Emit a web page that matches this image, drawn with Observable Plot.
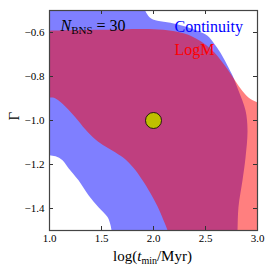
<!DOCTYPE html>
<html>
<head>
<meta charset="utf-8">
<script src="https://cdn.jsdelivr.net/npm/d3@7"></script>
<script src="https://cdn.jsdelivr.net/npm/@observablehq/plot@0.6"></script>
<style>
  html, body { margin: 0; padding: 0; background: #fff; }
  #chart { width: 274px; height: 274px; }
</style>
</head>
<body>
<div id="chart"></div>
<script>
// Tick values
const xTicks = [1.0, 1.5, 2.0, 2.5, 3.0];
const yTicks = [-1.4, -1.2, -1.0, -0.8, -0.6];

// Continuity credible region outline
const contX = [0.95, 1.88, 1.93, 1.971, 2.038, 2.163, 2.288, 2.423, 2.519, 2.577, 2.644, 2.712, 2.760, 2.817, 2.885, 2.904, 2.885, 2.856, 2.817, 2.808, 2.805,
               1.60, 1.596, 1.587, 1.558, 1.471, 1.375, 1.279, 1.183, 1.125, 1.058, 1.0, 0.95];
const contY = [-0.45, -0.46, -0.51, -0.534, -0.547, -0.556, -0.570, -0.592, -0.615, -0.647, -0.692, -0.751, -0.796, -0.864, -0.955, -1.045, -1.168, -1.272, -1.394, -1.5, -1.55,
               -1.55, -1.5, -1.476, -1.439, -1.394, -1.340, -1.272, -1.217, -1.181, -1.163, -1.158, -1.155];

// LogM credible region outline
const logmX = [0.95, 1.0, 1.49, 2.096, 2.356, 2.548, 2.673, 2.760, 2.837, 2.913, 3.0, 3.05, 3.05,
               2.15, 2.135, 2.096, 2.038, 1.971, 1.894, 1.827, 1.731, 1.635, 1.538, 1.442, 1.346, 1.25, 1.154, 1.058, 1.0, 0.95];
const logmY = [-0.592, -0.592, -0.588, -0.588, -0.615, -0.674, -0.742, -0.801, -0.855, -0.896, -0.918, -0.92, -1.55,
               -1.55, -1.5, -1.453, -1.390, -1.331, -1.272, -1.226, -1.177, -1.145, -1.118, -1.086, -1.041, -0.986, -0.937, -0.900, -0.896, -0.896];

// True value
const truthX = [2.0];
const truthY = [-1.0];

const cont = contX.map((x, i) => ({x, y: contY[i]}));
const logm = logmX.map((x, i) => ({x, y: logmY[i]}));
const truth = truthX.map((x, i) => ({x, y: truthY[i]}));

const fmt = d => d.toFixed(1).replace("-", "\u2212");
const serif = "Liberation Serif, DejaVu Serif, serif";

const plot = Plot.plot({
  width: 274,
  height: 274,
  marginLeft: 49,
  marginRight: 17,
  marginTop: 10,
  marginBottom: 44,
  style: {fontFamily: serif, fontSize: "11px", background: "#fff", color: "#000"},
  x: {domain: [1.0, 3.0], label: null},
  y: {domain: [-1.5, -0.5], label: null},
  marks: [
    Plot.line(cont, {x: "x", y: "y", fill: "#0000ff", fillOpacity: 0.5, stroke: "none", curve: "catmull-rom-closed", clip: true}),
    Plot.line(logm, {x: "x", y: "y", fill: "#ff0000", fillOpacity: 0.5, stroke: "none", curve: "catmull-rom-closed", clip: true}),
    Plot.dot(truth, {x: "x", y: "y", r: 8, fill: "#bfbf00", stroke: "#000", strokeWidth: 0.8}),
    Plot.tickX(xTicks, {x: d => d, insetTop: 216, stroke: "#333"}),
    Plot.tickX(xTicks, {x: d => d, insetBottom: 216, stroke: "#333"}),
    Plot.tickY(yTicks, {y: d => d, insetRight: 204, stroke: "#333"}),
    Plot.tickY(yTicks, {y: d => d, insetLeft: 204, stroke: "#333"}),
    Plot.axisX({ticks: xTicks, tickSize: 0, tickPadding: 4, tickFormat: fmt, label: null, fontSize: 11}),
    Plot.axisY({ticks: yTicks, tickSize: 0, tickPadding: 5, tickFormat: fmt, label: null, fontSize: 11}),
    Plot.frame({stroke: "#444", strokeWidth: 1.2}),
    Plot.text(["N"], {frameAnchor: "top-left", dx: 11, dy: 15, lineAnchor: "middle", textAnchor: "start", fontSize: 16, fill: "#000", className: "nbns"}),
    Plot.text(["Continuity"], {frameAnchor: "top-left", dx: 125, dy: 16, lineAnchor: "middle", textAnchor: "start", fontSize: 16, fill: "#0000ff"}),
    Plot.text(["LogM"], {frameAnchor: "top-left", dx: 125, dy: 39, lineAnchor: "middle", textAnchor: "start", fontSize: 16, fill: "#ff0000"}),
    Plot.text(["\u0393"], {frameAnchor: "left", dx: -35, rotate: -90, lineAnchor: "middle", fontSize: 15, fill: "#000"}),
    Plot.text(["log"], {frameAnchor: "bottom", dy: 26, dx: -1, lineAnchor: "middle", fontSize: 15, fill: "#000", className: "xlab"})
  ]
});
document.getElementById("chart").appendChild(plot);

// rich text with subscripts
const ns = d3.select(plot).select(".nbns text");
ns.text(null);
ns.append("tspan").attr("font-style", "italic").text("N");
ns.append("tspan").attr("font-size", 11).attr("dy", 3).text("BNS");
ns.append("tspan").attr("dy", -3).text(" = 30");

const xl = d3.select(plot).select(".xlab text");
xl.text(null);
xl.append("tspan").text("log(");
xl.append("tspan").attr("font-style", "italic").text("t");
xl.append("tspan").attr("font-size", 10).attr("dy", 3).text("min");
xl.append("tspan").attr("dy", -3).text("/Myr)");
</script>
</body>
</html>
